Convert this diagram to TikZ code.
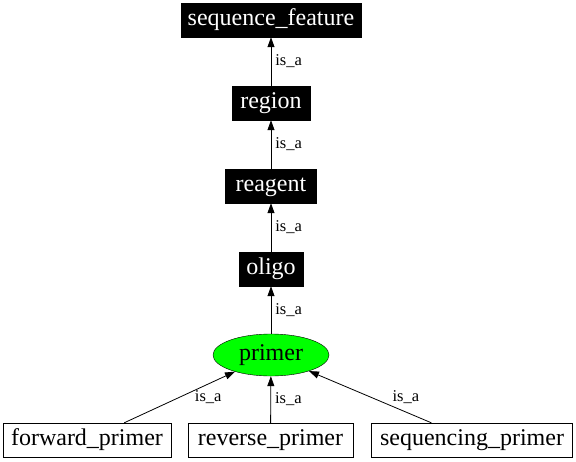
\documentclass[tikz,border=0pt]{standalone}
\usepackage{fontspec}
\setmainfont{Liberation Serif}
\usetikzlibrary{arrows.meta,shapes.geometric}

\begin{document}
\begin{tikzpicture}[x=1pt,y=-1pt,
    term/.style={draw=black,fill=black,text=white,minimum height=34pt,inner sep=0pt,
      text height=16pt,text depth=5pt,font=\fontsize{24}{25}\selectfont},
    leaf/.style={draw=black,fill=white,minimum height=34pt,inner sep=0pt,
      text height=16pt,text depth=5pt,font=\fontsize{24}{25}\selectfont},
    isa/.style={draw=black,line width=.8pt,-{Triangle[length=10pt,width=7pt]}},
    lbl/.style={font=\fontsize{16.5}{17}\selectfont,inner sep=0pt,anchor=west}]
  \useasboundingbox (0,0) rectangle (576,461);

% chain up to the root
\node[term,minimum width=180pt] (seqfeat) at (271,20) {sequence\_feature};
\node[term,minimum width=78pt] (region) at (271,103) {region};
\node[term,minimum width=91pt] (reagent) at (271,186) {reagent};
\node[term,minimum width=64pt] (oligo) at (271,269) {oligo};
\node[ellipse,draw=black,fill=green,minimum width=116pt,minimum height=42pt,inner sep=0pt,
  font=\fontsize{24}{25}\selectfont] (primer) at (271,355) {primer};

% leaves
\node[leaf,minimum width=168pt] (fwd) at (87,440) {forward\_primer};
\node[leaf,minimum width=165pt] (rev) at (270.5,440) {reverse\_primer};
\node[leaf,minimum width=201pt] (seqp) at (472,440) {sequencing\_primer};

\draw[isa] (region) --node[lbl,xshift=4pt]{is\_a} (seqfeat);
\draw[isa] (reagent) --node[lbl,xshift=4pt]{is\_a} (region);
\draw[isa] (oligo) --node[lbl,xshift=4pt]{is\_a} (reagent);
\draw[isa] (primer) --node[lbl,xshift=4pt]{is\_a} (oligo);

\draw[isa] (fwd) --node[lbl,xshift=15pt]{is\_a} (primer);
\draw[isa] (rev) --node[lbl,xshift=4pt]{is\_a} (primer);
\draw[isa] (seqp) --node[lbl,xshift=22pt]{is\_a} (primer);

\end{tikzpicture}
\end{document}
